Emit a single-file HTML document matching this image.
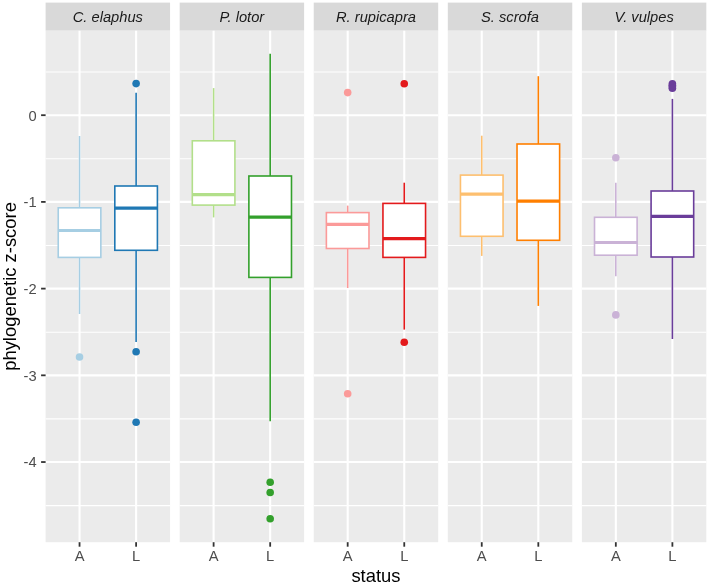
<!DOCTYPE html><html><head><meta charset="utf-8"><style>html,body{margin:0;padding:0;background:#fff;}svg{display:block;} text{filter:grayscale(1);}</style></head><body>
<svg width="709" height="585" viewBox="0 0 709 585" font-family="Liberation Sans, sans-serif">
<rect x="0" y="0" width="709" height="585" fill="#fff"/>
<rect x="45.60" y="2.6" width="124.45" height="28.10" fill="#D9D9D9"/>
<text x="107.83" y="22" font-size="14.7" font-style="italic" fill="#1A1A1A" text-anchor="middle">C. elaphus</text>
<rect x="45.60" y="30.7" width="124.45" height="511.50" fill="#EBEBEB"/>
<line x1="45.60" x2="170.05" y1="72.05" y2="72.05" stroke="#fff" stroke-width="1.07"/>
<line x1="45.60" x2="170.05" y1="158.75" y2="158.75" stroke="#fff" stroke-width="1.07"/>
<line x1="45.60" x2="170.05" y1="245.46" y2="245.46" stroke="#fff" stroke-width="1.07"/>
<line x1="45.60" x2="170.05" y1="332.17" y2="332.17" stroke="#fff" stroke-width="1.07"/>
<line x1="45.60" x2="170.05" y1="418.88" y2="418.88" stroke="#fff" stroke-width="1.07"/>
<line x1="45.60" x2="170.05" y1="505.59" y2="505.59" stroke="#fff" stroke-width="1.07"/>
<line x1="45.60" x2="170.05" y1="115.20" y2="115.20" stroke="#fff" stroke-width="2.1"/>
<line x1="45.60" x2="170.05" y1="201.91" y2="201.91" stroke="#fff" stroke-width="2.1"/>
<line x1="45.60" x2="170.05" y1="288.62" y2="288.62" stroke="#fff" stroke-width="2.1"/>
<line x1="45.60" x2="170.05" y1="375.33" y2="375.33" stroke="#fff" stroke-width="2.1"/>
<line x1="45.60" x2="170.05" y1="462.04" y2="462.04" stroke="#fff" stroke-width="2.1"/>
<line x1="79.54" x2="79.54" y1="30.7" y2="542.2" stroke="#fff" stroke-width="2.1"/>
<line x1="136.11" x2="136.11" y1="30.7" y2="542.2" stroke="#fff" stroke-width="2.1"/>
<line x1="79.54" x2="79.54" y1="136" y2="207.8" stroke="#A6CEE3" stroke-width="1.6"/>
<line x1="79.54" x2="79.54" y1="257.4" y2="314" stroke="#A6CEE3" stroke-width="1.6"/>
<rect x="58.24" y="207.8" width="42.6" height="49.60" fill="#fff" stroke="#A6CEE3" stroke-width="1.6"/>
<line x1="58.24" x2="100.84" y1="230.5" y2="230.5" stroke="#A6CEE3" stroke-width="3.2"/>
<circle cx="79.54" cy="357" r="3.8" fill="#A6CEE3"/>
<line x1="136.11" x2="136.11" y1="92.8" y2="186" stroke="#1F78B4" stroke-width="1.6"/>
<line x1="136.11" x2="136.11" y1="250.3" y2="341.9" stroke="#1F78B4" stroke-width="1.6"/>
<rect x="114.81" y="186" width="42.6" height="64.30" fill="#fff" stroke="#1F78B4" stroke-width="1.6"/>
<line x1="114.81" x2="157.41" y1="208.2" y2="208.2" stroke="#1F78B4" stroke-width="3.2"/>
<circle cx="136.11" cy="83.6" r="3.8" fill="#1F78B4"/>
<circle cx="136.11" cy="351.8" r="3.8" fill="#1F78B4"/>
<circle cx="136.11" cy="422.3" r="3.8" fill="#1F78B4"/>
<line x1="79.54" x2="79.54" y1="542.2" y2="546.70" stroke="#333" stroke-width="1.8"/>
<text x="79.54" y="561.4" font-size="14.7" fill="#4D4D4D" text-anchor="middle">A</text>
<line x1="136.11" x2="136.11" y1="542.2" y2="546.70" stroke="#333" stroke-width="1.8"/>
<text x="136.11" y="561.4" font-size="14.7" fill="#4D4D4D" text-anchor="middle">L</text>
<rect x="179.67" y="2.6" width="124.45" height="28.10" fill="#D9D9D9"/>
<text x="241.89" y="22" font-size="14.7" font-style="italic" fill="#1A1A1A" text-anchor="middle">P. lotor</text>
<rect x="179.67" y="30.7" width="124.45" height="511.50" fill="#EBEBEB"/>
<line x1="179.67" x2="304.12" y1="72.05" y2="72.05" stroke="#fff" stroke-width="1.07"/>
<line x1="179.67" x2="304.12" y1="158.75" y2="158.75" stroke="#fff" stroke-width="1.07"/>
<line x1="179.67" x2="304.12" y1="245.46" y2="245.46" stroke="#fff" stroke-width="1.07"/>
<line x1="179.67" x2="304.12" y1="332.17" y2="332.17" stroke="#fff" stroke-width="1.07"/>
<line x1="179.67" x2="304.12" y1="418.88" y2="418.88" stroke="#fff" stroke-width="1.07"/>
<line x1="179.67" x2="304.12" y1="505.59" y2="505.59" stroke="#fff" stroke-width="1.07"/>
<line x1="179.67" x2="304.12" y1="115.20" y2="115.20" stroke="#fff" stroke-width="2.1"/>
<line x1="179.67" x2="304.12" y1="201.91" y2="201.91" stroke="#fff" stroke-width="2.1"/>
<line x1="179.67" x2="304.12" y1="288.62" y2="288.62" stroke="#fff" stroke-width="2.1"/>
<line x1="179.67" x2="304.12" y1="375.33" y2="375.33" stroke="#fff" stroke-width="2.1"/>
<line x1="179.67" x2="304.12" y1="462.04" y2="462.04" stroke="#fff" stroke-width="2.1"/>
<line x1="213.61" x2="213.61" y1="30.7" y2="542.2" stroke="#fff" stroke-width="2.1"/>
<line x1="270.18" x2="270.18" y1="30.7" y2="542.2" stroke="#fff" stroke-width="2.1"/>
<line x1="213.61" x2="213.61" y1="88.1" y2="140.8" stroke="#B2DF8A" stroke-width="1.6"/>
<line x1="213.61" x2="213.61" y1="205.1" y2="217.4" stroke="#B2DF8A" stroke-width="1.6"/>
<rect x="192.31" y="140.8" width="42.6" height="64.30" fill="#fff" stroke="#B2DF8A" stroke-width="1.6"/>
<line x1="192.31" x2="234.91" y1="194.6" y2="194.6" stroke="#B2DF8A" stroke-width="3.2"/>
<line x1="270.18" x2="270.18" y1="53.7" y2="176" stroke="#33A02C" stroke-width="1.6"/>
<line x1="270.18" x2="270.18" y1="277.4" y2="421.3" stroke="#33A02C" stroke-width="1.6"/>
<rect x="248.88" y="176" width="42.6" height="101.40" fill="#fff" stroke="#33A02C" stroke-width="1.6"/>
<line x1="248.88" x2="291.48" y1="217.1" y2="217.1" stroke="#33A02C" stroke-width="3.2"/>
<circle cx="270.18" cy="482.2" r="3.8" fill="#33A02C"/>
<circle cx="270.18" cy="492.5" r="3.8" fill="#33A02C"/>
<circle cx="270.18" cy="518.7" r="3.8" fill="#33A02C"/>
<line x1="213.61" x2="213.61" y1="542.2" y2="546.70" stroke="#333" stroke-width="1.8"/>
<text x="213.61" y="561.4" font-size="14.7" fill="#4D4D4D" text-anchor="middle">A</text>
<line x1="270.18" x2="270.18" y1="542.2" y2="546.70" stroke="#333" stroke-width="1.8"/>
<text x="270.18" y="561.4" font-size="14.7" fill="#4D4D4D" text-anchor="middle">L</text>
<rect x="313.74" y="2.6" width="124.45" height="28.10" fill="#D9D9D9"/>
<text x="375.97" y="22" font-size="14.7" font-style="italic" fill="#1A1A1A" text-anchor="middle">R. rupicapra</text>
<rect x="313.74" y="30.7" width="124.45" height="511.50" fill="#EBEBEB"/>
<line x1="313.74" x2="438.19" y1="72.05" y2="72.05" stroke="#fff" stroke-width="1.07"/>
<line x1="313.74" x2="438.19" y1="158.75" y2="158.75" stroke="#fff" stroke-width="1.07"/>
<line x1="313.74" x2="438.19" y1="245.46" y2="245.46" stroke="#fff" stroke-width="1.07"/>
<line x1="313.74" x2="438.19" y1="332.17" y2="332.17" stroke="#fff" stroke-width="1.07"/>
<line x1="313.74" x2="438.19" y1="418.88" y2="418.88" stroke="#fff" stroke-width="1.07"/>
<line x1="313.74" x2="438.19" y1="505.59" y2="505.59" stroke="#fff" stroke-width="1.07"/>
<line x1="313.74" x2="438.19" y1="115.20" y2="115.20" stroke="#fff" stroke-width="2.1"/>
<line x1="313.74" x2="438.19" y1="201.91" y2="201.91" stroke="#fff" stroke-width="2.1"/>
<line x1="313.74" x2="438.19" y1="288.62" y2="288.62" stroke="#fff" stroke-width="2.1"/>
<line x1="313.74" x2="438.19" y1="375.33" y2="375.33" stroke="#fff" stroke-width="2.1"/>
<line x1="313.74" x2="438.19" y1="462.04" y2="462.04" stroke="#fff" stroke-width="2.1"/>
<line x1="347.68" x2="347.68" y1="30.7" y2="542.2" stroke="#fff" stroke-width="2.1"/>
<line x1="404.25" x2="404.25" y1="30.7" y2="542.2" stroke="#fff" stroke-width="2.1"/>
<line x1="347.68" x2="347.68" y1="205.6" y2="212.6" stroke="#FB9A99" stroke-width="1.6"/>
<line x1="347.68" x2="347.68" y1="248.5" y2="288" stroke="#FB9A99" stroke-width="1.6"/>
<rect x="326.38" y="212.6" width="42.6" height="35.90" fill="#fff" stroke="#FB9A99" stroke-width="1.6"/>
<line x1="326.38" x2="368.98" y1="224.4" y2="224.4" stroke="#FB9A99" stroke-width="3.2"/>
<circle cx="347.68" cy="92.6" r="3.8" fill="#FB9A99"/>
<circle cx="347.68" cy="393.8" r="3.8" fill="#FB9A99"/>
<line x1="404.25" x2="404.25" y1="182.7" y2="203.4" stroke="#E31A1C" stroke-width="1.6"/>
<line x1="404.25" x2="404.25" y1="257.4" y2="329.6" stroke="#E31A1C" stroke-width="1.6"/>
<rect x="382.95" y="203.4" width="42.6" height="54.00" fill="#fff" stroke="#E31A1C" stroke-width="1.6"/>
<line x1="382.95" x2="425.55" y1="238.7" y2="238.7" stroke="#E31A1C" stroke-width="3.2"/>
<circle cx="404.25" cy="83.7" r="3.8" fill="#E31A1C"/>
<circle cx="404.25" cy="342.2" r="3.8" fill="#E31A1C"/>
<line x1="347.68" x2="347.68" y1="542.2" y2="546.70" stroke="#333" stroke-width="1.8"/>
<text x="347.68" y="561.4" font-size="14.7" fill="#4D4D4D" text-anchor="middle">A</text>
<line x1="404.25" x2="404.25" y1="542.2" y2="546.70" stroke="#333" stroke-width="1.8"/>
<text x="404.25" y="561.4" font-size="14.7" fill="#4D4D4D" text-anchor="middle">L</text>
<rect x="447.81" y="2.6" width="124.45" height="28.10" fill="#D9D9D9"/>
<text x="510.04" y="22" font-size="14.7" font-style="italic" fill="#1A1A1A" text-anchor="middle">S. scrofa</text>
<rect x="447.81" y="30.7" width="124.45" height="511.50" fill="#EBEBEB"/>
<line x1="447.81" x2="572.26" y1="72.05" y2="72.05" stroke="#fff" stroke-width="1.07"/>
<line x1="447.81" x2="572.26" y1="158.75" y2="158.75" stroke="#fff" stroke-width="1.07"/>
<line x1="447.81" x2="572.26" y1="245.46" y2="245.46" stroke="#fff" stroke-width="1.07"/>
<line x1="447.81" x2="572.26" y1="332.17" y2="332.17" stroke="#fff" stroke-width="1.07"/>
<line x1="447.81" x2="572.26" y1="418.88" y2="418.88" stroke="#fff" stroke-width="1.07"/>
<line x1="447.81" x2="572.26" y1="505.59" y2="505.59" stroke="#fff" stroke-width="1.07"/>
<line x1="447.81" x2="572.26" y1="115.20" y2="115.20" stroke="#fff" stroke-width="2.1"/>
<line x1="447.81" x2="572.26" y1="201.91" y2="201.91" stroke="#fff" stroke-width="2.1"/>
<line x1="447.81" x2="572.26" y1="288.62" y2="288.62" stroke="#fff" stroke-width="2.1"/>
<line x1="447.81" x2="572.26" y1="375.33" y2="375.33" stroke="#fff" stroke-width="2.1"/>
<line x1="447.81" x2="572.26" y1="462.04" y2="462.04" stroke="#fff" stroke-width="2.1"/>
<line x1="481.75" x2="481.75" y1="30.7" y2="542.2" stroke="#fff" stroke-width="2.1"/>
<line x1="538.32" x2="538.32" y1="30.7" y2="542.2" stroke="#fff" stroke-width="2.1"/>
<line x1="481.75" x2="481.75" y1="135.7" y2="175.1" stroke="#FDBF6F" stroke-width="1.6"/>
<line x1="481.75" x2="481.75" y1="236.3" y2="255.9" stroke="#FDBF6F" stroke-width="1.6"/>
<rect x="460.45" y="175.1" width="42.6" height="61.20" fill="#fff" stroke="#FDBF6F" stroke-width="1.6"/>
<line x1="460.45" x2="503.05" y1="194.1" y2="194.1" stroke="#FDBF6F" stroke-width="3.2"/>
<line x1="538.32" x2="538.32" y1="76.2" y2="144" stroke="#FF7F00" stroke-width="1.6"/>
<line x1="538.32" x2="538.32" y1="240.3" y2="305.9" stroke="#FF7F00" stroke-width="1.6"/>
<rect x="517.02" y="144" width="42.6" height="96.30" fill="#fff" stroke="#FF7F00" stroke-width="1.6"/>
<line x1="517.02" x2="559.62" y1="201.2" y2="201.2" stroke="#FF7F00" stroke-width="3.2"/>
<line x1="481.75" x2="481.75" y1="542.2" y2="546.70" stroke="#333" stroke-width="1.8"/>
<text x="481.75" y="561.4" font-size="14.7" fill="#4D4D4D" text-anchor="middle">A</text>
<line x1="538.32" x2="538.32" y1="542.2" y2="546.70" stroke="#333" stroke-width="1.8"/>
<text x="538.32" y="561.4" font-size="14.7" fill="#4D4D4D" text-anchor="middle">L</text>
<rect x="581.88" y="2.6" width="124.45" height="28.10" fill="#D9D9D9"/>
<text x="644.11" y="22" font-size="14.7" font-style="italic" fill="#1A1A1A" text-anchor="middle">V. vulpes</text>
<rect x="581.88" y="30.7" width="124.45" height="511.50" fill="#EBEBEB"/>
<line x1="581.88" x2="706.33" y1="72.05" y2="72.05" stroke="#fff" stroke-width="1.07"/>
<line x1="581.88" x2="706.33" y1="158.75" y2="158.75" stroke="#fff" stroke-width="1.07"/>
<line x1="581.88" x2="706.33" y1="245.46" y2="245.46" stroke="#fff" stroke-width="1.07"/>
<line x1="581.88" x2="706.33" y1="332.17" y2="332.17" stroke="#fff" stroke-width="1.07"/>
<line x1="581.88" x2="706.33" y1="418.88" y2="418.88" stroke="#fff" stroke-width="1.07"/>
<line x1="581.88" x2="706.33" y1="505.59" y2="505.59" stroke="#fff" stroke-width="1.07"/>
<line x1="581.88" x2="706.33" y1="115.20" y2="115.20" stroke="#fff" stroke-width="2.1"/>
<line x1="581.88" x2="706.33" y1="201.91" y2="201.91" stroke="#fff" stroke-width="2.1"/>
<line x1="581.88" x2="706.33" y1="288.62" y2="288.62" stroke="#fff" stroke-width="2.1"/>
<line x1="581.88" x2="706.33" y1="375.33" y2="375.33" stroke="#fff" stroke-width="2.1"/>
<line x1="581.88" x2="706.33" y1="462.04" y2="462.04" stroke="#fff" stroke-width="2.1"/>
<line x1="615.82" x2="615.82" y1="30.7" y2="542.2" stroke="#fff" stroke-width="2.1"/>
<line x1="672.39" x2="672.39" y1="30.7" y2="542.2" stroke="#fff" stroke-width="2.1"/>
<line x1="615.82" x2="615.82" y1="182.7" y2="217.3" stroke="#CAB2D6" stroke-width="1.6"/>
<line x1="615.82" x2="615.82" y1="255.2" y2="276.2" stroke="#CAB2D6" stroke-width="1.6"/>
<rect x="594.52" y="217.3" width="42.6" height="37.90" fill="#fff" stroke="#CAB2D6" stroke-width="1.6"/>
<line x1="594.52" x2="637.12" y1="242.5" y2="242.5" stroke="#CAB2D6" stroke-width="3.2"/>
<circle cx="615.82" cy="157.7" r="3.8" fill="#CAB2D6"/>
<circle cx="615.82" cy="314.9" r="3.8" fill="#CAB2D6"/>
<line x1="672.39" x2="672.39" y1="98.9" y2="191.0" stroke="#6A3D9A" stroke-width="1.6"/>
<line x1="672.39" x2="672.39" y1="257.0" y2="339" stroke="#6A3D9A" stroke-width="1.6"/>
<rect x="651.09" y="191.0" width="42.6" height="66.00" fill="#fff" stroke="#6A3D9A" stroke-width="1.6"/>
<line x1="651.09" x2="693.69" y1="216.4" y2="216.4" stroke="#6A3D9A" stroke-width="3.2"/>
<circle cx="672.39" cy="83.8" r="3.8" fill="#6A3D9A"/>
<circle cx="672.39" cy="85.3" r="3.8" fill="#6A3D9A"/>
<circle cx="672.39" cy="86.8" r="3.8" fill="#6A3D9A"/>
<circle cx="672.39" cy="88.2" r="3.8" fill="#6A3D9A"/>
<line x1="615.82" x2="615.82" y1="542.2" y2="546.70" stroke="#333" stroke-width="1.8"/>
<text x="615.82" y="561.4" font-size="14.7" fill="#4D4D4D" text-anchor="middle">A</text>
<line x1="672.39" x2="672.39" y1="542.2" y2="546.70" stroke="#333" stroke-width="1.8"/>
<text x="672.39" y="561.4" font-size="14.7" fill="#4D4D4D" text-anchor="middle">L</text>
<line x1="41.1" x2="45.6" y1="115.20" y2="115.20" stroke="#333" stroke-width="1.8"/>
<text x="36.6" y="120.50" font-size="14.7" fill="#4D4D4D" text-anchor="end">0</text>
<line x1="41.1" x2="45.6" y1="201.91" y2="201.91" stroke="#333" stroke-width="1.8"/>
<text x="36.6" y="207.21" font-size="14.7" fill="#4D4D4D" text-anchor="end">-1</text>
<line x1="41.1" x2="45.6" y1="288.62" y2="288.62" stroke="#333" stroke-width="1.8"/>
<text x="36.6" y="293.92" font-size="14.7" fill="#4D4D4D" text-anchor="end">-2</text>
<line x1="41.1" x2="45.6" y1="375.33" y2="375.33" stroke="#333" stroke-width="1.8"/>
<text x="36.6" y="380.63" font-size="14.7" fill="#4D4D4D" text-anchor="end">-3</text>
<line x1="41.1" x2="45.6" y1="462.04" y2="462.04" stroke="#333" stroke-width="1.8"/>
<text x="36.6" y="467.34" font-size="14.7" fill="#4D4D4D" text-anchor="end">-4</text>
<text x="375.97" y="581.8" font-size="18.4" fill="#000" text-anchor="middle">status</text>
<text transform="translate(16.0,286.45) rotate(-90)" x="0" y="0" font-size="18.4" fill="#000" text-anchor="middle">phylogenetic z-score</text>
</svg></body></html>
